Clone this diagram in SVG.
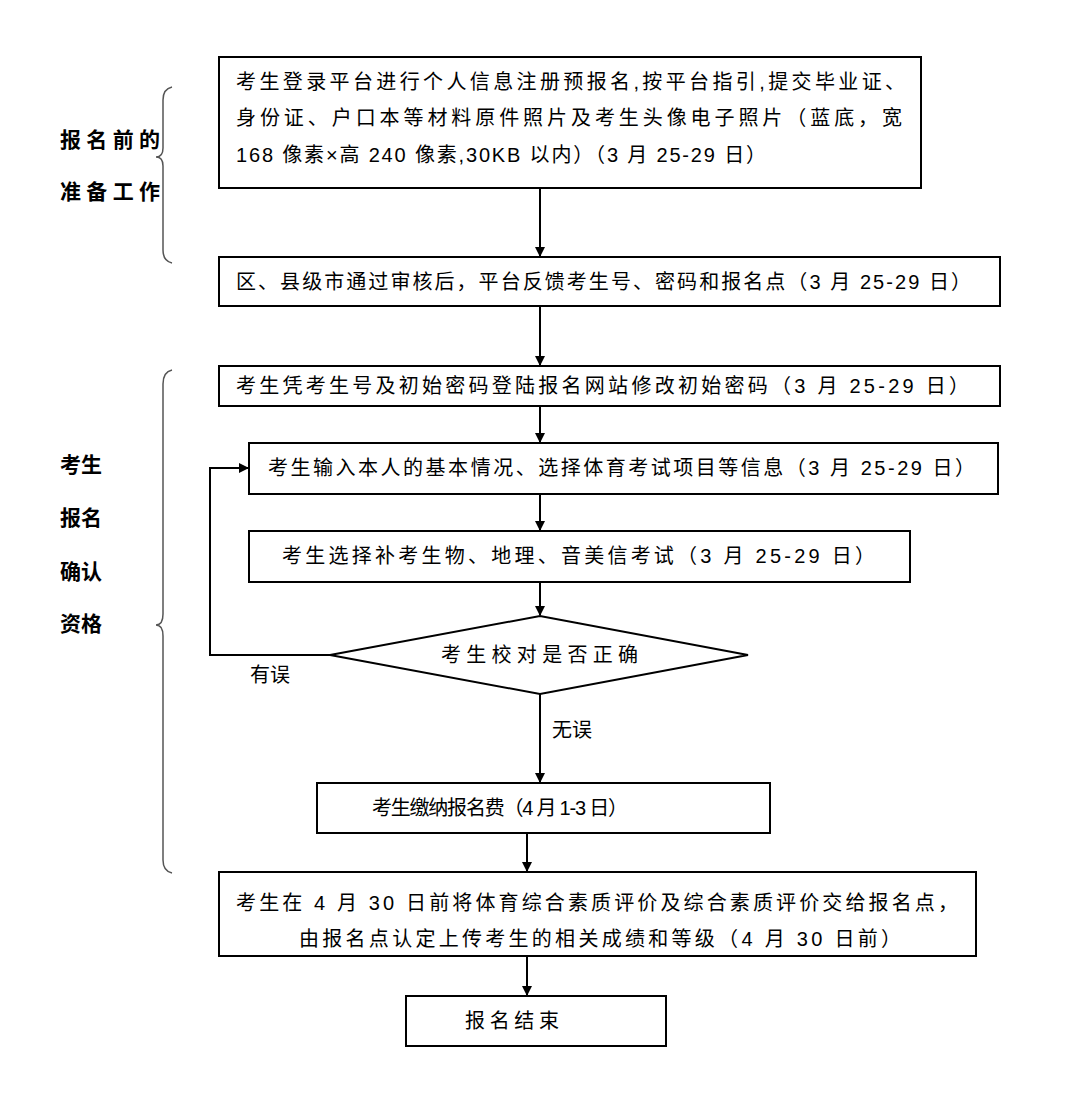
<svg xmlns="http://www.w3.org/2000/svg" width="1080" height="1094" viewBox="0 0 1080 1094">
<style>
.b{fill:#fff;stroke:#000;stroke-width:2}
.t{font-family:"Liberation Sans","Noto Sans CJK SC",sans-serif;font-size:20px;fill:#000}
.c{text-anchor:middle}
.l{font-family:"Noto Sans CJK SC",sans-serif;font-size:21px;font-weight:bold;fill:#000}
.e{fill:none;stroke:#000;stroke-width:2}
.br{fill:none;stroke:#555;stroke-width:1.5}
</style>
<defs><marker id="a" markerWidth="10" markerHeight="10" refX="9" refY="5" orient="auto" markerUnits="userSpaceOnUse"><path d="M0,0 L10,5 L0,10 z" fill="#000"/></marker></defs>
<rect width="1080" height="1094" fill="#fff"/>
<g id="labels">
<text class="l" x="60" y="147" textLength="100" lengthAdjust="spacing">报名前的</text>
<text class="l" x="60" y="199" textLength="100" lengthAdjust="spacing">准备工作</text>
<text class="l" x="60" y="472">考生</text>
<text class="l" x="60" y="525">报名</text>
<text class="l" x="60" y="579">确认</text>
<text class="l" x="60" y="631">资格</text>
<text class="t" x="250" y="682">有误</text>
<text class="t" x="552" y="737">无误</text>
</g>
<g id="braces">
<path class="br" d="M172,87 Q163,89 163,100 L163,148 Q163,157 156,157 Q163,157 163,166 L163,250 Q163,261 172,263"/>
<path class="br" d="M172,370 Q163,372 163,384 L163,614 Q163,625 156,625 Q163,625 163,636 L163,860 Q163,871 172,873"/>
</g>
<g id="connectors">
<line class="e" x1="540" y1="188" x2="540" y2="256" marker-end="url(#a)"/>
<line class="e" x1="540" y1="306" x2="540" y2="365" marker-end="url(#a)"/>
<line class="e" x1="540" y1="406" x2="540" y2="442" marker-end="url(#a)"/>
<line class="e" x1="540" y1="494" x2="540" y2="530" marker-end="url(#a)"/>
<line class="e" x1="540" y1="582" x2="540" y2="615" marker-end="url(#a)"/>
<line class="e" x1="540" y1="694" x2="540" y2="782" marker-end="url(#a)"/>
<line class="e" x1="527" y1="833" x2="527" y2="871" marker-end="url(#a)"/>
<line class="e" x1="527" y1="956" x2="527" y2="995" marker-end="url(#a)"/>
<polyline class="e" points="330,655 210,655 210,468 248,468" marker-end="url(#a)"/>
</g>
<g id="n1"><rect class="b" x="219" y="57" width="702" height="131"/>
<text class="t" x="236" y="89" textLength="669" lengthAdjust="spacing">考生登录平台进行个人信息注册预报名,按平台指引,提交毕业证、</text>
<text class="t" x="236" y="125" textLength="666" lengthAdjust="spacing">身份证、户口本等材料原件照片及考生头像电子照片（蓝底，宽</text>
<text class="t" x="236" y="162" textLength="530" lengthAdjust="spacing">168 像素×高 240 像素,30KB 以内）（3 月 25-29 日）</text></g>
<g id="n2"><rect class="b" x="219" y="257" width="781" height="49"/>
<text class="t" x="236" y="289" textLength="735" lengthAdjust="spacing">区、县级市通过审核后，平台反馈考生号、密码和报名点（3 月 25-29 日）</text></g>
<g id="n3"><rect class="b" x="219" y="366" width="781" height="40"/>
<text class="t" x="236" y="393" textLength="733" lengthAdjust="spacing">考生凭考生号及初始密码登陆报名网站修改初始密码（3 月 25-29 日）</text></g>
<g id="n4"><rect class="b" x="249" y="443" width="749" height="51"/>
<text class="t" x="268" y="475" textLength="707" lengthAdjust="spacing">考生输入本人的基本情况、选择体育考试项目等信息（3 月 25-29 日）</text></g>
<g id="n5"><rect class="b" x="249" y="531" width="661" height="51"/>
<text class="t" x="282" y="563" textLength="593" lengthAdjust="spacing">考生选择补考生物、地理、音美信考试（3 月 25-29 日）</text></g>
<g id="n6"><polygon class="b" points="330,655 540,616 748,655 540,694"/>
<text class="t" x="441" y="662" textLength="197" lengthAdjust="spacing">考生校对是否正确</text></g>
<g id="n7"><rect class="b" x="317" y="783" width="453" height="50"/>
<text class="t" x="372" y="815" textLength="256" lengthAdjust="spacing">考生缴纳报名费（4 月 1-3 日）</text></g>
<g id="n8"><rect class="b" x="219" y="872" width="757" height="84"/>
<text class="t" x="236" y="910" textLength="722" lengthAdjust="spacing">考生在 4 月 30 日前将体育综合素质评价及综合素质评价交给报名点，</text>
<text class="t" x="299" y="946" textLength="602" lengthAdjust="spacing">由报名点认定上传考生的相关成绩和等级（4 月 30 日前）</text></g>
<g id="n9"><rect class="b" x="406" y="996" width="260" height="50"/>
<text class="t" x="465" y="1028" textLength="94" lengthAdjust="spacing">报名结束</text></g>
</svg>
